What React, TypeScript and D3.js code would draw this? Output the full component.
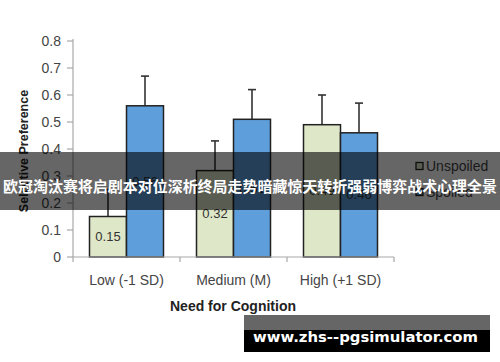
import * as d3 from "d3";

// ── Data ──────────────────────────────────────────────────────────────────────
const categories = ["Low (-1 SD)", "Medium (M)", "High (+1 SD)"];
const seriesNames = ["Unspoiled", "Spoiled"];
const unspoiled = [0.15, 0.32, 0.49];
const spoiled = [0.56, 0.51, 0.46];
const unspoiledErr = [0.1, 0.11, 0.11];
const spoiledErr = [0.11, 0.11, 0.11];
const yTicks = [0, 0.1, 0.2, 0.3, 0.4, 0.5, 0.6, 0.7, 0.8];

const bannerText = "欧冠淘汰赛将启剧本对位深析终局走势暗藏惊天转折强弱博弈战术心理全景";
const watermark = "www.zhs--pgsimulator.com";

const COLORS: Record<string, string> = {
  Unspoiled: "#dfe7c9",
  Spoiled: "#5e9edb",
};

const W = 500;
const H = 362;
const FONT = "'Liberation Sans', Arial, Helvetica, sans-serif";

export default function App() {
  const x0 = d3.scaleBand<string>().domain(categories).range([73, 394]).padding(0);
  const x1 = d3
    .scaleBand<string>()
    .domain(seriesNames)
    .range([0, x0.bandwidth()])
    .paddingInner(0)
    .paddingOuter(0.446);
  const y = d3.scaleLinear().domain([0, 0.8]).range([257, 41]);

  const rows = categories.map((c, i) => ({
    cat: c,
    bars: [
      { key: "Unspoiled", v: unspoiled[i], e: unspoiledErr[i] },
      { key: "Spoiled", v: spoiled[i], e: spoiledErr[i] },
    ],
  }));

  const axisColor = "#a8a8a8";
  const boundaries = [...categories.map((c) => x0(c)!), 394];

  return (
    <svg width={W} height={H} style={{ position: "absolute", left: 0, top: 0 }}>
      <rect width={W} height={H} fill="#fff" />

      {/* error bars (drawn behind bars) */}
      {rows.map((r) =>
        r.bars.map((b) => {
          const cx = x0(r.cat)! + x1(b.key)! + x1.bandwidth() / 2;
          return (
            <g key={r.cat + b.key + "e"} stroke="#333" strokeWidth={1.6}>
              <line x1={cx} x2={cx} y1={y(b.v)} y2={y(b.v + b.e)} />
              <line x1={cx - 4} x2={cx + 4} y1={y(b.v + b.e)} y2={y(b.v + b.e)} />
            </g>
          );
        })
      )}

      {/* bars */}
      {rows.map((r) =>
        r.bars.map((b) => {
          const bx = x0(r.cat)! + x1(b.key)!;
          return (
            <g key={r.cat + b.key}>
              <rect
                x={bx}
                y={y(b.v)}
                width={x1.bandwidth()}
                height={y(0) - y(b.v)}
                fill={COLORS[b.key]}
                stroke="#222"
                strokeWidth={1.5}
              />
              <text
                x={bx + x1.bandwidth() / 2}
                y={y(b.v / 2)}
                textAnchor="middle"
                dominantBaseline="central"
                fontFamily={FONT}
                fontSize={13}
                fill="#333"
              >
                {b.v.toFixed(2)}
              </text>
            </g>
          );
        })
      )}

      {/* y axis */}
      <line x1={73} x2={73} y1={y(0.8) - 2} y2={y(0)} stroke={axisColor} strokeWidth={1.2} />
      {yTicks.map((t) => (
        <g key={t}>
          <line x1={67} x2={73} y1={y(t)} y2={y(t)} stroke={axisColor} strokeWidth={1.2} />
          <text
            x={61}
            y={y(t)}
            textAnchor="end"
            dominantBaseline="central"
            fontFamily={FONT}
            fontSize={14}
            fill="#444"
          >
            {t === 0 ? "0" : t.toFixed(1)}
          </text>
        </g>
      ))}

      {/* x axis */}
      <line x1={73} x2={394} y1={y(0)} y2={y(0)} stroke={axisColor} strokeWidth={1.2} />
      {boundaries.map((bx, i) => (
        <line key={i} x1={bx} x2={bx} y1={y(0)} y2={y(0) + 5} stroke={axisColor} strokeWidth={1.2} />
      ))}
      {categories.map((c) => (
        <text
          key={c}
          x={x0(c)! + x0.bandwidth() / 2}
          y={280}
          textAnchor="middle"
          dominantBaseline="central"
          fontFamily={FONT}
          fontSize={14}
          fill="#444"
        >
          {c}
        </text>
      ))}

      {/* axis titles */}
      <text
        x={233}
        y={306}
        textAnchor="middle"
        dominantBaseline="central"
        fontFamily={FONT}
        fontSize={14}
        fontWeight="bold"
        fill="#222"
      >
        Need for Cognition
      </text>
      <text
        transform={`translate(24,151) rotate(-90)`}
        textAnchor="middle"
        dominantBaseline="central"
        fontFamily={FONT}
        fontSize={12.5}
        fontWeight="bold"
        fill="#222"
      >
        Selective Preference
      </text>

      {/* legend */}
      {seriesNames.map((s, i) => (
        <g key={s} transform={`translate(416,${166 + i * 26})`}>
          <rect x={0} y={-3.5} width={7} height={7} fill={COLORS[s]} stroke="#222" strokeWidth={1.3} />
          <text x={10} y={0} dominantBaseline="central" fontFamily={FONT} fontSize={14} fill="#444">
            {s}
          </text>
        </g>
      ))}

      {/* overlay banner */}
      <rect x={0} y={152} width={W} height={58} fill="rgba(0,0,0,0.6)" />
      <text
        x={3}
        y={185}
        dominantBaseline="central"
        fontFamily="'Noto Sans CJK SC', sans-serif"
        fontSize={14.6}
        fontWeight="bold"
        fill="#fff"
        textLength={494}
        lengthAdjust="spacingAndGlyphs"
      >
        {bannerText}
      </text>

      {/* watermark */}
      <rect x={244} y={315} width={246} height={15} fill="rgba(0,0,0,0.6)" />
      <rect x={244} y={330} width={246} height={22} fill="#000" />
      <text
        x={253}
        y={342}
        fontFamily="'DejaVu Sans', sans-serif"
        fontSize={14.5}
        fontWeight="bold"
        fill="#fff"
        textLength={225}
        lengthAdjust="spacingAndGlyphs"
      >
        {watermark}
      </text>
    </svg>
  );
}
